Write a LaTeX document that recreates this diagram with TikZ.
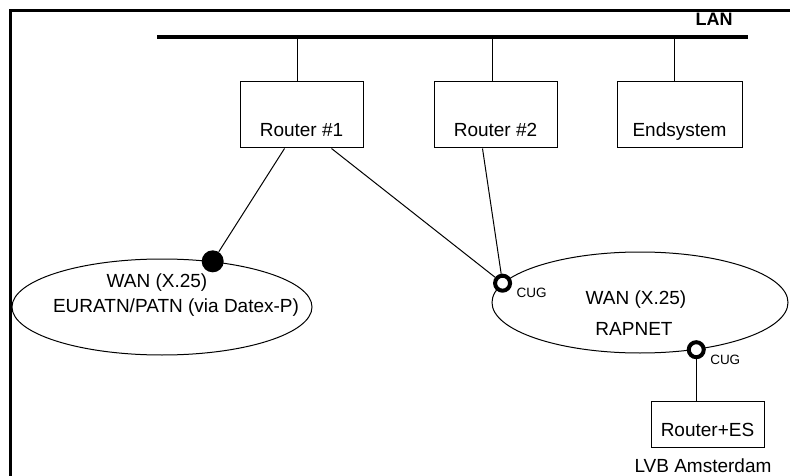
\documentclass[tikz,border=0pt]{standalone}
\usepackage{fontspec}
\setmainfont{Liberation Sans}
\usetikzlibrary{calc,shapes.geometric}
\begin{document}
\begin{tikzpicture}[x=1pt,y=-1pt,
  mainfont/.style={font=\fontsize{19}{24}\selectfont},
  box/.style={draw, line width=1pt, inner xsep=0pt, inner ysep=8pt, text height=47pt, text depth=3pt, minimum height=66pt, mainfont},
  wan/.style={draw, ellipse, line width=1pt, inner sep=0pt},
  wantext/.style={mainfont, inner sep=0pt, align=center},
  link/.style={line width=1pt},
  cug/.style={circle, draw, line width=4pt, fill=white, inner sep=0pt, minimum size=15pt},
  dot/.style={circle, fill=black, inner sep=0pt, minimum size=22pt},
  cuglabel/.style={font=\fontsize{13.5}{16}\selectfont, inner sep=0pt}]
\useasboundingbox (0,0) rectangle (790,476);
% frame
\draw[line width=3pt] (10.5,480) -- (10.5,10.5) -- (795,10.5);
% LAN
\coordinate (lanL) at (157,37);
\coordinate (lanR) at (748,37);
\draw[line width=3.5pt] (lanL) -- (lanR);
\node[font=\fontsize{18}{21}\selectfont\bfseries, inner sep=0pt] (lanlabel) at (714,19) {LAN};
% boxes
\node[box, minimum width=123pt] (r1) at (301.5,115) {Router \#1};
\node[box, minimum width=123pt] (r2) at (495.5,115) {Router \#2};
\node[box, minimum width=125pt] (es) at (679.5,115) {Endsystem};
\coordinate (r1top) at ($(r1.north)+(-4.5,0)$);
\coordinate (r2top) at ($(r2.north)+(-3.5,0)$);
\coordinate (estop) at ($(es.north)+(-5,0)$);
\draw[link] (r1top) -- (r1top |- lanL);
\draw[link] (r2top) -- (r2top |- lanL);
\draw[link] (estop) -- (estop |- lanL);
% WANs
\node[wan, minimum width=300pt, minimum height=96pt] (wan1) at (162,307) {};
\node[wantext] (wan1t1) at (157,283) {WAN (X.25)};
\node[wantext] (wan1t2) at (176,308) {EURATN/PATN (via Datex-P)};
\node[wan, minimum width=296pt, minimum height=101pt] (wan2) at (640,302.5) {};
\node[wantext] (wan2t1) at (636,300) {WAN (X.25)};
\node[wantext] (wan2t2) at (634,329) {RAPNET};
% access points
\node[dot] (d1) at (wan1.42) {};
\node[cug] (c1) at (wan2.172) {};
\node[cug] (c2) at (wan2.-40) {};
\node[cuglabel] (c1l) at ($(c1)+(29,10)$) {CUG};
\node[cuglabel] (c2l) at ($(c2)+(29,10)$) {CUG};
% links
\draw[link] ($(r1.south)+(-17,0)$) -- (d1);
\draw[link] ($(r1.south)+(30,0)$) -- (c1);
\draw[link] ($(r2.south)+(-13,0)$) -- (c1);
% remote
\node[box, minimum width=113pt, text height=27pt, minimum height=42pt] (res) at (707.5,424) {Router+ES};
\draw[link] (c2) -- (c2 |- res.north);
\node[mainfont, inner sep=0pt] (lvb) at (703,466) {LVB Amsterdam};
\end{tikzpicture}
\end{document}
